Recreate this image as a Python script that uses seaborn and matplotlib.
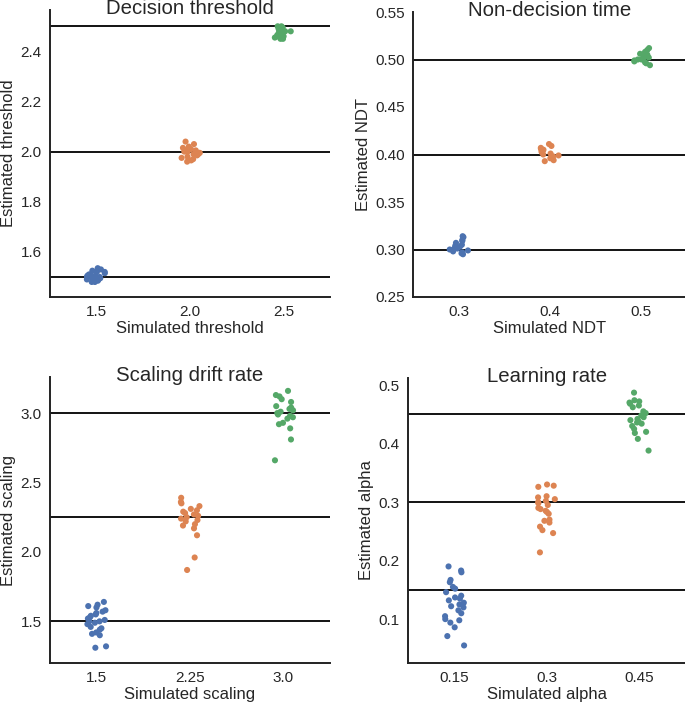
import numpy as np
import pandas as pd
import matplotlib
matplotlib.use("Agg")
import matplotlib.pyplot as plt
import seaborn as sns

# --- values ---
thr_labels = ["1.5", "2.0", "2.5"]
thr_true = [1.5, 2.0, 2.5]
thr_15 = [1.535, 1.53, 1.525, 1.52, 1.52, 1.515, 1.51, 1.51, 1.505, 1.505, 1.50, 1.50,
          1.50, 1.495, 1.495, 1.49, 1.49, 1.485, 1.48, 1.48]
thr_20 = [2.04, 2.03, 2.02, 2.015, 2.01, 2.005, 2.005, 2.0, 2.0, 1.995, 1.995, 1.99,
          1.99, 1.985, 1.98, 1.975, 1.97, 1.965, 1.96]
thr_25 = [2.50, 2.50, 2.495, 2.49, 2.49, 2.485, 2.48, 2.48, 2.475, 2.47, 2.47, 2.465,
          2.46, 2.46, 2.455, 2.45, 2.45]

ndt_labels = ["0.3", "0.4", "0.5"]
ndt_true = [0.3, 0.4, 0.5]
ndt_03 = [0.314, 0.313, 0.31, 0.309, 0.307, 0.305, 0.304, 0.303, 0.302, 0.301, 0.30,
          0.30, 0.299, 0.298, 0.297, 0.296, 0.295]
ndt_04 = [0.411, 0.409, 0.407, 0.406, 0.405, 0.404, 0.403, 0.402, 0.401, 0.40, 0.399,
          0.398, 0.396, 0.394, 0.393]
ndt_05 = [0.512, 0.51, 0.508, 0.506, 0.505, 0.504, 0.503, 0.502, 0.501, 0.50, 0.50,
          0.499, 0.498, 0.497, 0.496, 0.494]

scl_labels = ["1.5", "2.25", "3.0"]
scl_true = [1.5, 2.25, 3.0]
scl_15 = [1.64, 1.62, 1.61, 1.60, 1.58, 1.57, 1.56, 1.55, 1.54, 1.53, 1.52, 1.51, 1.50,
          1.50, 1.49, 1.48, 1.46, 1.45, 1.44, 1.42, 1.41, 1.40, 1.32, 1.31]
scl_225 = [2.39, 2.36, 2.35, 2.33, 2.31, 2.30, 2.29, 2.28, 2.27, 2.26, 2.25, 2.24, 2.23,
           2.22, 2.20, 2.19, 2.17, 2.12, 1.96, 1.87]
scl_30 = [3.16, 3.13, 3.12, 3.10, 3.08, 3.05, 3.04, 3.03, 3.02, 3.01, 3.00, 2.99, 2.98,
          2.97, 2.96, 2.93, 2.92, 2.89, 2.81, 2.66]

alp_labels = ["0.15", "0.3", "0.45"]
alp_true = [0.15, 0.3, 0.45]
alp_015 = [0.19, 0.183, 0.18, 0.167, 0.163, 0.155, 0.152, 0.146, 0.14, 0.137, 0.135,
           0.132, 0.128, 0.125, 0.122, 0.12, 0.115, 0.11, 0.105, 0.10, 0.098, 0.094,
           0.086, 0.071, 0.055]
alp_03 = [0.33, 0.328, 0.326, 0.31, 0.308, 0.305, 0.302, 0.30, 0.298, 0.295, 0.29,
          0.288, 0.285, 0.283, 0.28, 0.27, 0.268, 0.265, 0.258, 0.252, 0.247, 0.214]
alp_045 = [0.487, 0.474, 0.472, 0.47, 0.468, 0.465, 0.462, 0.455, 0.452, 0.448, 0.445,
           0.442, 0.44, 0.438, 0.436, 0.434, 0.43, 0.425, 0.42, 0.418, 0.408, 0.388]


def long_df(labels, groups):
    rows = []
    for lab, vals in zip(labels, groups):
        rows += [(lab, v) for v in vals]
    return pd.DataFrame(rows, columns=["sim", "est"])


panels = [
    ("Decision threshold", thr_labels, thr_true, [thr_15, thr_20, thr_25],
     "Simulated threshold", "Estimated threshold", (1.42, 2.565),
     [1.6, 1.8, 2.0, 2.2, 2.4], "{:.1f}", [50, 10, 330, 297]),
    ("Non-decision time", ndt_labels, ndt_true, [ndt_03, ndt_04, ndt_05],
     "Simulated NDT", "Estimated NDT", (0.25, 0.55),
     [0.25, 0.30, 0.35, 0.40, 0.45, 0.50, 0.55], "{:.2f}", [413, 12, 686, 297]),
    ("Scaling drift rate", scl_labels, scl_true, [scl_15, scl_225, scl_30],
     "Simulated scaling", "Estimated scaling", (1.20, 3.26),
     [1.5, 2.0, 2.5, 3.0], "{:.1f}", [50, 377, 330, 663]),
    ("Learning rate", alp_labels, alp_true, [alp_015, alp_03, alp_045],
     "Simulated alpha", "Estimated alpha", (0.025, 0.512),
     [0.1, 0.2, 0.3, 0.4, 0.5], "{:.1f}", [408, 378, 686, 663]),
]

sns.set_style("white")
plt.rcParams["font.family"] = ["Liberation Sans", "DejaVu Sans"]
W, H = 685, 707
fig = plt.figure(figsize=(W / 100, H / 100), dpi=100)
np.random.seed(3)

for title, labels, truth, groups, xl, yl, ylim, yticks, fmt, box in panels:
    x0, y0, x1, y1 = box
    ax = fig.add_axes([x0 / W, 1 - y1 / H, (x1 - x0) / W, (y1 - y0) / H])
    df = long_df(labels, groups)
    sns.stripplot(data=df, x="sim", y="est", hue="sim", palette="deep",
                  order=labels, size=4.4, jitter=0.11, legend=False, ax=ax)
    for t in truth:
        ax.axhline(t, color="black", lw=1.3, zorder=0)
    ax.set_ylim(*ylim)
    ax.set_xlim(-0.5, 2.5)
    ax.set_yticks(yticks)
    ax.set_yticklabels([fmt.format(v) for v in yticks])
    ax.tick_params(labelsize=11, length=0, pad=6)
    ax.set_xlabel(xl, fontsize=12, labelpad=1)
    ax.set_ylabel(yl, fontsize=12, labelpad=3)
    ax.set_title(title, fontsize=14.7, pad=-3)
    for s in ax.spines.values():
        s.set_linewidth(1.4)
        s.set_color("#222222")
    sns.despine(ax=ax)

fig.savefig("out.png", dpi=100)
